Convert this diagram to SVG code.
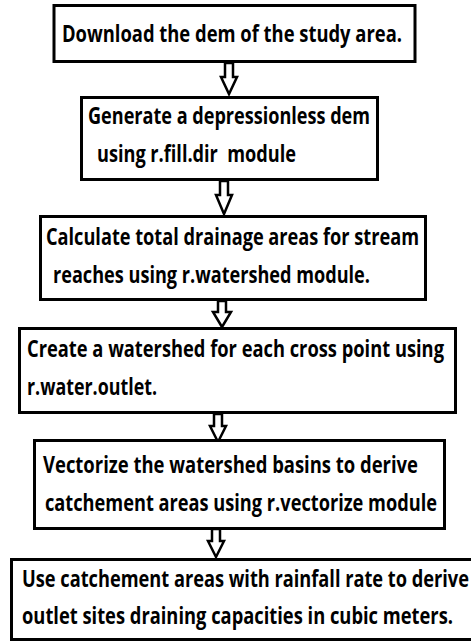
<svg xmlns="http://www.w3.org/2000/svg" width="471" height="643" viewBox="0 0 471 643">
<style>
.box{fill:#fff;stroke:#000;stroke-width:3}
.arr{fill:#fff;stroke:#000;stroke-width:2.5;stroke-linejoin:miter}
text{font-family:"Open Sans","Liberation Sans",sans-serif;font-weight:bold;font-size:23.5px;fill:#000;white-space:pre}
</style>
<rect width="471" height="643" fill="#fff"/>
<g id="connectors">
<polygon class="arr" points="225,63 233,63 233,77 237,77 229,94 221,77 225,77"/>
<polygon class="arr" points="220,181 228,181 228,195 232,195 224,214 216,195 220,195"/>
<polygon class="arr" points="218,301 226,301 226,312 231,312 222,327 213,312 218,312"/>
<polygon class="arr" points="214,414 222,414 222,426 226,426 218,442 210,426 214,426"/>
<polygon class="arr" points="212,529 220,529 220,541 224,541 216,557 208,541 212,541"/>
</g>
<g id="n1">
<rect class="box" x="54" y="5.5" width="361" height="56"/>
<text x="62" y="42" textLength="340" lengthAdjust="spacingAndGlyphs">Download the dem of the study area.</text>
</g>
<g id="n2">
<rect class="box" x="81.5" y="97.5" width="296" height="82"/>
<text x="88" y="124" textLength="282" lengthAdjust="spacingAndGlyphs">Generate a depressionless dem</text>
<text x="97" y="162" textLength="199" lengthAdjust="spacingAndGlyphs">using r.fill.dir  module</text>
</g>
<g id="n3">
<rect class="box" x="40.5" y="216.5" width="385" height="83"/>
<text x="46" y="245" textLength="373" lengthAdjust="spacingAndGlyphs">Calculate total drainage areas for stream</text>
<text x="53" y="283" textLength="317" lengthAdjust="spacingAndGlyphs">reaches using r.watershed module.</text>
</g>
<g id="n4">
<rect class="box" x="19.5" y="328.5" width="436" height="84"/>
<text x="27" y="357" textLength="417" lengthAdjust="spacingAndGlyphs">Create a watershed for each cross point using</text>
<text x="27" y="395" textLength="130" lengthAdjust="spacingAndGlyphs">r.water.outlet.</text>
</g>
<g id="n5">
<rect class="box" x="34.5" y="440.5" width="410" height="88"/>
<text x="43" y="473" textLength="375" lengthAdjust="spacingAndGlyphs">Vectorize the watershed basins to derive</text>
<text x="45" y="511" textLength="392" lengthAdjust="spacingAndGlyphs">catchement areas using r.vectorize module</text>
</g>
<g id="n6">
<rect class="box" x="11.5" y="559.5" width="470" height="80"/>
<text x="22" y="587" textLength="447" lengthAdjust="spacingAndGlyphs">Use catchement areas with rainfall rate to derive</text>
<text x="22" y="624" textLength="431" lengthAdjust="spacingAndGlyphs">outlet sites draining capacities in cubic meters.</text>
</g>
</svg>
